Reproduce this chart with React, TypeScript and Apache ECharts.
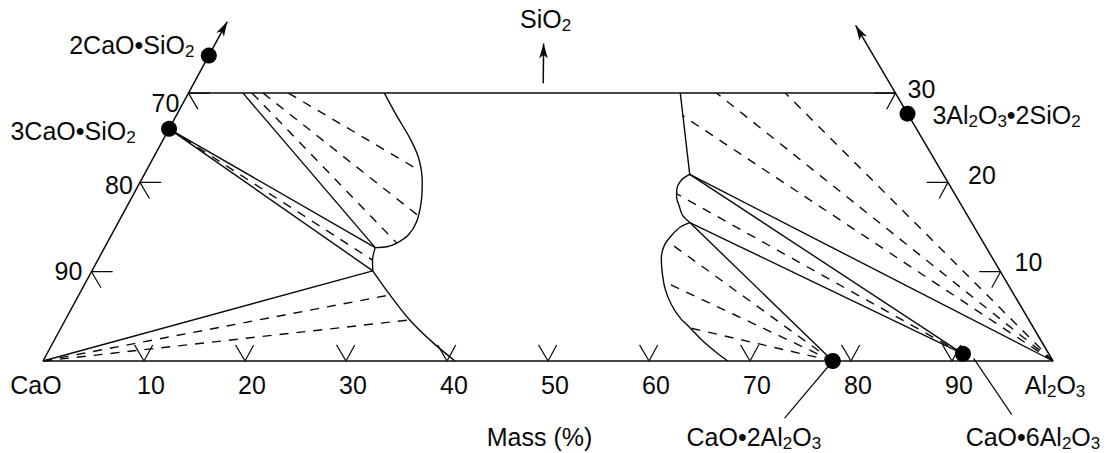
import React, { useEffect, useRef } from "react";
import * as echarts from "echarts";

type Pt = [number, number]; // [Al2O3 mass %, SiO2 mass %]; CaO = 100 - Al2O3 - SiO2

// ---------------- data ----------------
const CAO: Pt = [0, 0];
const AL2O3: Pt = [100, 0];
const C2S: Pt = [0, 34.2];
const C3S: Pt = [0, 26.0];
const MULLITE: Pt = [72.3, 27.7];
const CA2: Pt = [78.2, 0];
const CA6: Pt = [90.7, 0.8];

// invariant liquids
const P1: Pt = [26.8, 12.7];
const P2: Pt = [27.8, 10.1];
const P3: Pt = [54.0, 20.9];
const P4: Pt = [56.6, 15.5];

const SIO2_TOP = 30;
const leftEdgeTip: Pt = [0, 38.75];
const rightEdgeTip: Pt = [61.7, 38.3];
const sio2Arrow: [Pt, Pt] = [[34.6, 31.1], [32.1, 36.4]];

// liquidus boundaries
const c2sLiquidus: Pt[] = [[19.4, 30], [21.8, 27.5], [24.4, 24.9], [26.3, 22.7], [27.9, 20.1], [28.9, 17.8], [29.5, 15.6], [29.4, 14.1], [28.7, 13.2], [27.9, 12.8], P1];
const c3sLiquidus: Pt[] = [P1, [27.2, 11.3], P2];
const limeLiquidus: Pt[] = [P2, [30.8, 7.4], [34.1, 4.6], [37.7, 2.0], [40.8, 0]];
const corundumLiquidus: Pt[] = [[48.7, 30], P3];
const ca6Liquidus: Pt[] = [P3, [53.5, 20.3], [53.5, 19.3], [53.9, 18.4], [54.7, 17.3], [55.5, 16.3], P4];
const ca2Liquidus: Pt[] = [P4, [55.9, 15.0], [55.5, 14.1], [55.3, 13.0], [55.7, 11.5], [56.5, 10.0], [57.7, 8.1], [59.2, 6.3], [60.8, 4.8], [62.3, 3.7], [64.3, 2.2], [66.3, 0.9], [67.8, 0]];

// solid tie lines (three-phase triangles)
const solidTies: [Pt, Pt][] = [
  [[5.4, 30], P1],
  [C3S, P1],
  [C3S, P2],
  [CAO, P2],
  [P3, AL2O3],
  [P3, CA6],
  [P4, CA6],
  [P4, CA2],
];

// dashed tie lines (two-phase fields)
const dashedTies: [Pt, Pt][] = [
  [[9.9, 30], [27.1, 21.3]],
  [[7.4, 30], [29.3, 16.3]],
  [[6.3, 30], [28.7, 13.2]],
  [C3S, [27.2, 11.3]],
  [CAO, [30.8, 7.4]],
  [CAO, [34.1, 4.6]],
  [AL2O3, [59.1, 30]],
  [AL2O3, [52.3, 30]],
  [AL2O3, [50.1, 27.5]],
  [CA6, [53.8, 18.7]],
  [CA2, [55.4, 13.4]],
  [CA2, [57.2, 8.9]],
  [CA2, [62.3, 3.7]],
];

// leader lines for compound names
const leaders: [Pt, Pt][] = [
  [CA2, [76.5, -6.4]],
  [[92.0, 0.3], [98.8, -6.0]],
];

// ticks
const bottomTickValues = [10, 20, 30, 40, 50, 60, 70, 80, 90];
const bottomTickLabels = ["10", "20", "30", "40", "50", "60", "70", "80", "90"];
const sideTickValues = [10, 20, 30];
const leftTickLabels = ["90", "80", "70"];
const rightTickLabels = ["10", "20", "30"];

const compounds: Pt[] = [C2S, C3S, MULLITE, CA2, CA6];
const compoundNames = ["2CaO•SiO{s|2}", "3CaO•SiO{s|2}", "3Al{s|2}O{s|3}•2SiO{s|2}", "CaO•2Al{s|2}O{s|3}", "CaO•6Al{s|2}O{s|3}"];

// ---------------- styles / layout ----------------
const X0 = 43, XS = 10.1, Y0 = 361, YS = 8.93, SKEW = 0.48;
const XMIN = -4, XMAX = 105.9, YMIN = -10, YMAX = 40;
const INK = "#0a0a0a";
const FONT = '"Liberation Sans", Arial, Helvetica, sans-serif';
const LW = 1.4;
const DASH = [9, 8];
const TICK_H = 2.1;
const TICK_D = 1.8;
const ARROW_HALF = 7.5;

const compoundOffsets: [number, number][] = [[-77, -11], [-96, 2], [99, 1.5], [-79, 76], [70, 83]];
const leftLabelOffsets: [number, number][] = [[-23, -1], [-21, 3], [-23, 10]];
const rightLabelOffsets: [number, number][] = [[28, -10], [34, -7], [26, -4]];

const toXY = (p: Pt): number[] => [p[0] + SKEW * p[1], p[1]];
const toPx = (p: Pt): number[] => [X0 + XS * (p[0] + SKEW * p[1]), Y0 - YS * p[1]];
const backOff = (from: Pt, tip: Pt, px: number): Pt => {
  const a = toPx(from);
  const b = toPx(tip);
  const len = Math.hypot(b[0] - a[0], b[1] - a[1]);
  const t = 1 - px / len;
  return [from[0] + (tip[0] - from[0]) * t, from[1] + (tip[1] - from[1]) * t];
};

const lineSeries = (pts: Pt[], dashed = false, smooth: number | boolean = false, width = LW) => ({
  type: "line",
  data: pts.map(toXY),
  showSymbol: false,
  symbol: "none",
  smooth,
  silent: true,
  z: 2,
  lineStyle: { color: INK, width, type: dashed ? DASH : "solid", opacity: 1 },
});

const richSub = {
  s: { fontSize: 17, lineHeight: 17, verticalAlign: "bottom", fontFamily: FONT, color: INK },
};

const labelItem = (anchor: Pt, text: string, offset: [number, number]) => ({
  value: toXY(anchor),
  label: {
    show: true,
    position: "inside",
    formatter: text,
    offset,
    color: INK,
    opacity: 1,
    fontSize: 25,
    fontFamily: FONT,
    lineHeight: 30,
    textBorderWidth: 0,
    rich: richSub,
  },
});

function buildOption() {
  const series: any[] = [];

  const arrowEnd = (from: Pt, tip: Pt) => [
    { coord: toXY(from), symbol: "none" },
    { coord: toXY(backOff(from, tip, ARROW_HALF)), symbol: "arrow", symbolSize: [6.5, 15] },
  ];
  series.push({
    ...lineSeries([CAO, AL2O3], false, false, 1.5),
    markLine: {
      silent: true,
      animation: false,
      symbol: ["none", "arrow"],
      label: { show: false },
      emphasis: { disabled: true },
      lineStyle: { color: INK, width: 1.5, type: "solid", opacity: 1 },
      data: [
        arrowEnd(CAO, leftEdgeTip),
        arrowEnd(AL2O3, rightEdgeTip),
        arrowEnd(sio2Arrow[0], sio2Arrow[1]),
      ],
    },
  });
  series.push(lineSeries([[0, SIO2_TOP], [100 - SIO2_TOP, SIO2_TOP]], false, false, 1.5));

  // liquidus curves
  series.push(lineSeries(c2sLiquidus, false, 0.3));
  series.push(lineSeries(c3sLiquidus, false, 0.3));
  series.push(lineSeries(limeLiquidus, false, 0.3));
  series.push(lineSeries(corundumLiquidus));
  series.push(lineSeries(ca6Liquidus, false, 0.3));
  series.push(lineSeries(ca2Liquidus, false, 0.3));

  solidTies.forEach((seg) => series.push(lineSeries(seg)));
  dashedTies.forEach((seg) => series.push(lineSeries(seg, true)));
  leaders.forEach((seg) => series.push(lineSeries(seg, false, false, 1.2)));

  // ticks
  bottomTickValues.forEach((v) =>
    series.push(lineSeries([[v - TICK_D, TICK_D], [v, 0], [v, TICK_D]], false, false, 1.2))
  );
  sideTickValues.forEach((s) => {
    series.push(lineSeries([[TICK_H, s], [0, s], [TICK_D, s - TICK_D]], false, false, 1.2));
    const a = 100 - s;
    series.push(lineSeries([[a - TICK_H, s], [a, s], [a, s - TICK_D]], false, false, 1.2));
  });

  // compound dots
  series.push({
    type: "scatter",
    data: compounds.map(toXY),
    symbol: "circle",
    symbolSize: 16,
    silent: true,
    z: 5,
    itemStyle: { color: "#000", opacity: 1 },
  });

  // texts
  const labels: any[] = [];
  compounds.forEach((c, i) => labels.push(labelItem(c, compoundNames[i], compoundOffsets[i])));
  bottomTickValues.forEach((v, i) => labels.push(labelItem([v, 0], bottomTickLabels[i], [7, 24])));
  sideTickValues.forEach((s, i) => {
    labels.push(labelItem([0, s], leftTickLabels[i], leftLabelOffsets[i]));
    labels.push(labelItem([100 - s, s], rightTickLabels[i], rightLabelOffsets[i]));
  });
  labels.push(labelItem(CAO, "CaO", [-7, 24]));
  labels.push(labelItem(AL2O3, "Al{s|2}O{s|3}", [2, 24]));
  labels.push(labelItem(sio2Arrow[1], "SiO{s|2}", [2, -17]));
  labels.push(labelItem([50, 0], "Mass (%)", [-8.5, 76]));
  series.push({
    type: "scatter",
    data: labels,
    symbol: "circle",
    symbolSize: 1,
    silent: true,
    z: 10,
    itemStyle: { color: "rgba(0,0,0,0)", opacity: 1 },
  });

  return {
    animation: false,
    backgroundColor: "#ffffff",
    grid: {
      left: X0 + XS * XMIN,
      top: Y0 - YS * YMAX,
      width: XS * (XMAX - XMIN),
      height: YS * (YMAX - YMIN),
      containLabel: false,
      outerBoundsMode: "none",
    },
    xAxis: { type: "value", min: XMIN, max: XMAX, show: false },
    yAxis: { type: "value", min: YMIN, max: YMAX, show: false },
    series,
  };
}

export default function App() {
  const ref = useRef<HTMLDivElement>(null);
  useEffect(() => {
    if (!ref.current) return;
    const chart = echarts.init(ref.current, undefined, { renderer: "svg" });
    chart.setOption(buildOption() as any);
    return () => chart.dispose();
  }, []);
  return (
    <div
      ref={ref}
      style={{ position: "fixed", left: 0, top: 0, width: 1113, height: 453, background: "#fff" }}
    />
  );
}
